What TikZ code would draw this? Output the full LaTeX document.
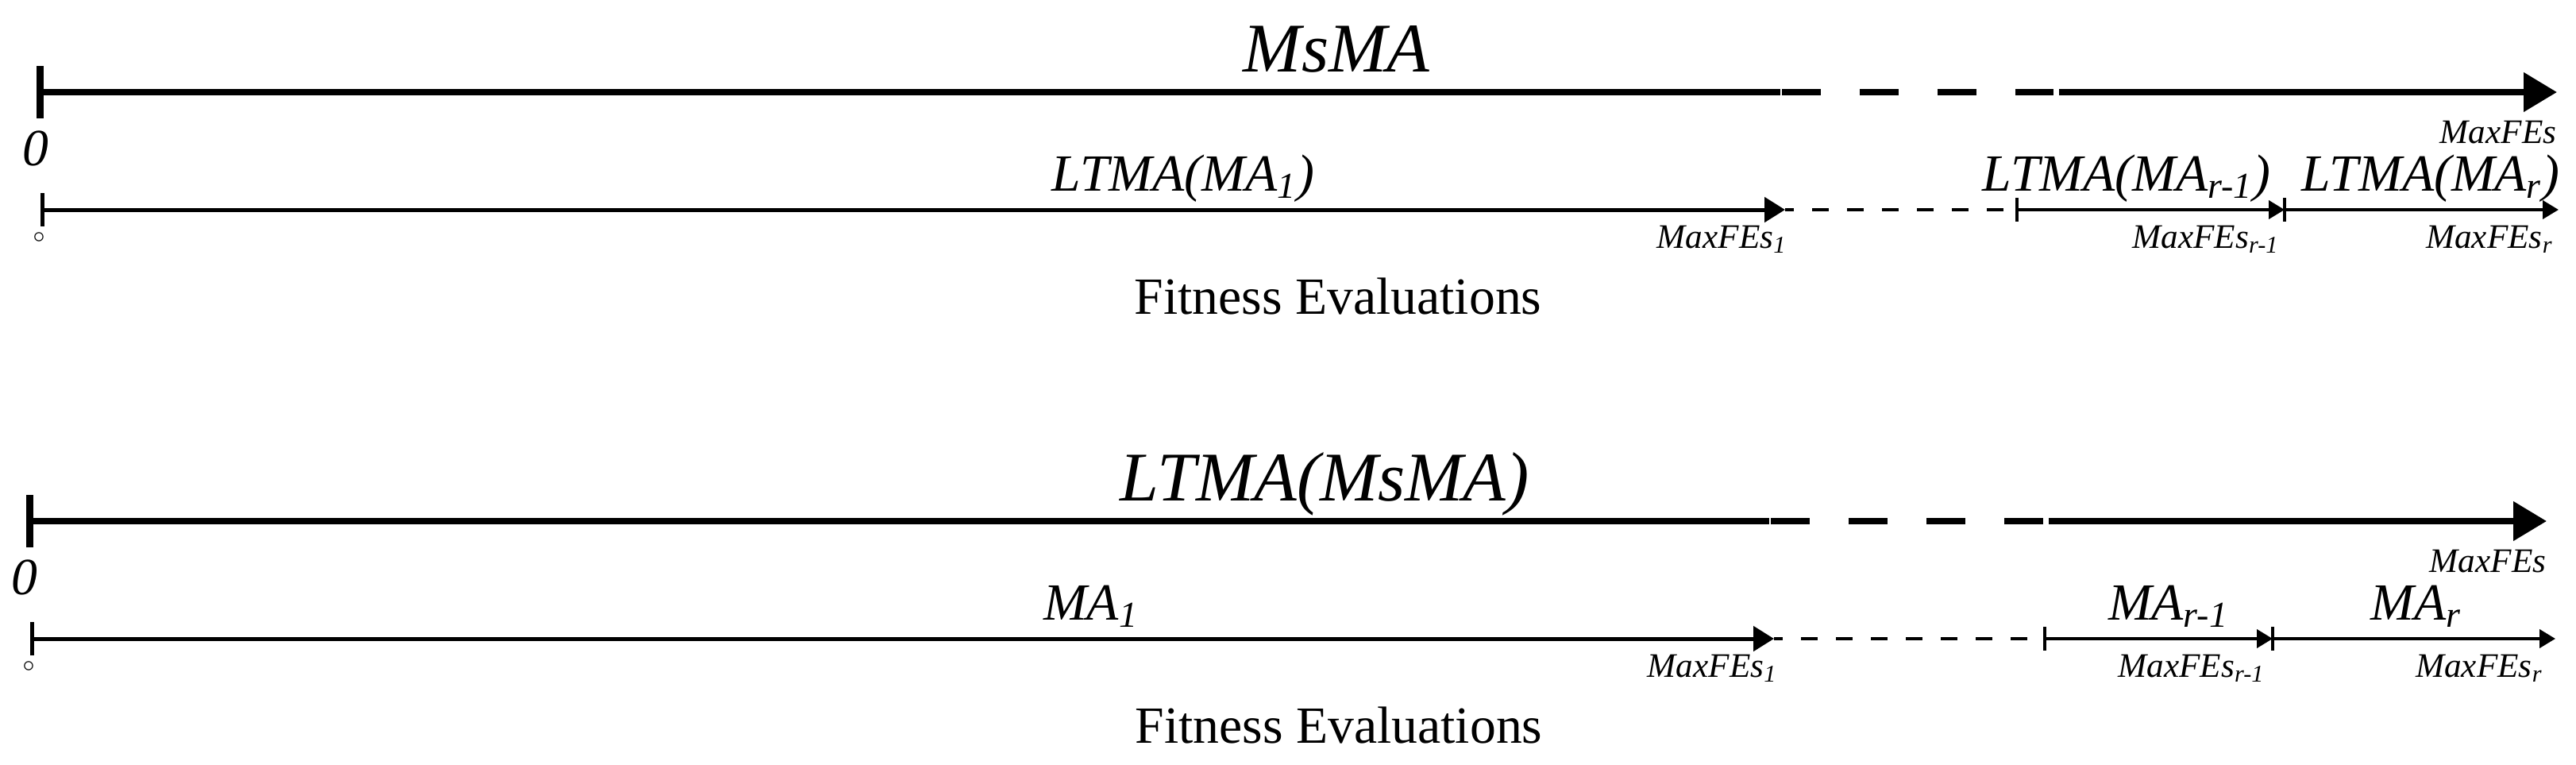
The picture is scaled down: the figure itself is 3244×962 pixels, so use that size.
\documentclass[tikz,border=0pt]{standalone}
\usepackage{fontspec}
\setmainfont{Liberation Serif}
\usetikzlibrary{arrows.meta}

\begin{document}
\begin{tikzpicture}[x=0.1mm,y=-0.1mm,
    big/.style={font=\fontsize{25}{30}\selectfont\itshape,inner sep=0pt},
    mid/.style={font=\fontsize{18.7}{22}\selectfont\itshape,inner sep=0pt},
    small/.style={font=\fontsize{12.3}{15}\selectfont\itshape,inner sep=0pt},
    axislabel/.style={font=\fontsize{18.7}{22}\selectfont,inner sep=0pt},
    dot/.style={font=\footnotesize,inner sep=0pt},
    thickaxis/.style={line width=0.8mm},
    thinaxis/.style={line width=0.5mm},
    segaxis/.style={line width=0.4mm},
    bighead/.style={-{Triangle[length=4.2mm,width=4.8mm]}},
    midhead/.style={-{Triangle[length=2.6mm,width=3.1mm]}},
    smallhead/.style={-{Triangle[length=2mm,width=2.3mm]}},
    gapdash/.style={thinaxis,line width=0.4mm,dash pattern=on 2.1mm off 2.3mm,dash phase=1mm}]
\useasboundingbox (0,0) rectangle (3244,962);

% upper panel: MsMA
\coordinate (s0) at (50,116);
\coordinate (s1) at (2242,116);
\coordinate (s2) at (2244,116);
\coordinate (s3) at (2586,116);
\coordinate (s4) at (2593,116);
\coordinate (s5) at (3220,116);
\draw[thickaxis,line width=0.9mm] ([yshift=3.3mm]s0) -- ([yshift=-3.3mm]s0);
\draw[thickaxis] (s0) -- (s1);
\draw[thickaxis,dash pattern=on 4.9mm off 4.9mm] (s2) -- (s3);
\draw[thickaxis,bighead] (s4) -- (s5);

\coordinate (a0) at (53,264);
\coordinate (a1) at (2248,264);
\coordinate (a2) at (2525,264);
\coordinate (a3) at (2540,264);
\coordinate (a4) at (2877,264);
\coordinate (a5) at (3222,264);
\draw[thinaxis] ([yshift=2.1mm]a0) -- ([yshift=-2.1mm]a0);
\draw[thinaxis,midhead] (a0) -- (a1);
\draw[gapdash] (a1) -- (a2);
\draw[segaxis] ([yshift=1.5mm]a3) -- ([yshift=-1.5mm]a3);
\draw[segaxis,smallhead] (a3) -- (a4);
\draw[segaxis] ([yshift=1.5mm]a4) -- ([yshift=-1.5mm]a4);
\draw[segaxis,smallhead] (a4) -- (a5);

\node[big,anchor=base] (msma) at (1683,90) {MsMA};
\node[small,anchor=base east] (maxtop) at (3220,180) {MaxFEs};
\node[mid,anchor=base] (zerotop) at (45,208) {0};
\node[dot] (dottop) at (49,299) {$\circ$};
\node[mid,anchor=base] (ltmaone) at (1490,240) {LTMA(MA\textsubscript{1})};
\node[mid,anchor=base] (ltmarm) at (2678,240) {LTMA(MA\textsubscript{r-1})};
\node[mid,anchor=base] (ltmar) at (3061,240) {LTMA(MA\textsubscript{r})};
\node[small,anchor=base east] (maxone) at (2251,312) {MaxFEs\textsubscript{1}};
\node[small,anchor=base] (maxrm) at (2778,312) {MaxFEs\textsubscript{r-1}};
\node[small,anchor=base east] (maxr) at (3216,312) {MaxFEs\textsubscript{r}};
\node[axislabel,anchor=base] (fetop) at (1685,395) {Fitness Evaluations};

% lower panel: LTMA(MsMA)
\coordinate (t0) at (37,656);
\coordinate (t1) at (2228,656);
\coordinate (t2) at (2230,656);
\coordinate (t3) at (2573,656);
\coordinate (t4) at (2580,656);
\coordinate (t5) at (3207,656);
\draw[thickaxis,line width=0.9mm] ([yshift=3.3mm]t0) -- ([yshift=-3.3mm]t0);
\draw[thickaxis] (t0) -- (t1);
\draw[thickaxis,dash pattern=on 4.9mm off 4.9mm] (t2) -- (t3);
\draw[thickaxis,bighead] (t4) -- (t5);

\coordinate (b0) at (40,804);
\coordinate (b1) at (2234,804);
\coordinate (b2) at (2555,804);
\coordinate (b3) at (2575,804);
\coordinate (b4) at (2862,804);
\coordinate (b5) at (3218,804);
\draw[thinaxis] ([yshift=2.1mm]b0) -- ([yshift=-2.1mm]b0);
\draw[thinaxis,midhead] (b0) -- (b1);
\draw[gapdash] (b1) -- (b2);
\draw[segaxis] ([yshift=1.5mm]b3) -- ([yshift=-1.5mm]b3);
\draw[segaxis,smallhead] (b3) -- (b4);
\draw[segaxis] ([yshift=1.5mm]b4) -- ([yshift=-1.5mm]b4);
\draw[segaxis,smallhead] (b4) -- (b5);

\node[big,anchor=base] (ltmams) at (1668,630) {LTMA(MsMA)};
\node[small,anchor=base east] (maxbot) at (3207,720) {MaxFEs};
\node[mid,anchor=base] (zerobot) at (31,748) {0};
\node[dot] (dotbot) at (36,839) {$\circ$};
\node[mid,anchor=base] (maone) at (1374,780) {MA\textsubscript{1}};
\node[mid,anchor=base] (marm) at (2731,780) {MA\textsubscript{r-1}};
\node[mid,anchor=base] (mar) at (3043,780) {MA\textsubscript{r}};
\node[small,anchor=base east] (maxbone) at (2239,852) {MaxFEs\textsubscript{1}};
\node[small,anchor=base] (maxbrm) at (2760,852) {MaxFEs\textsubscript{r-1}};
\node[small,anchor=base east] (maxbr) at (3203,852) {MaxFEs\textsubscript{r}};
\node[axislabel,anchor=base] (febot) at (1686,935) {Fitness Evaluations};
\end{tikzpicture}
\end{document}
